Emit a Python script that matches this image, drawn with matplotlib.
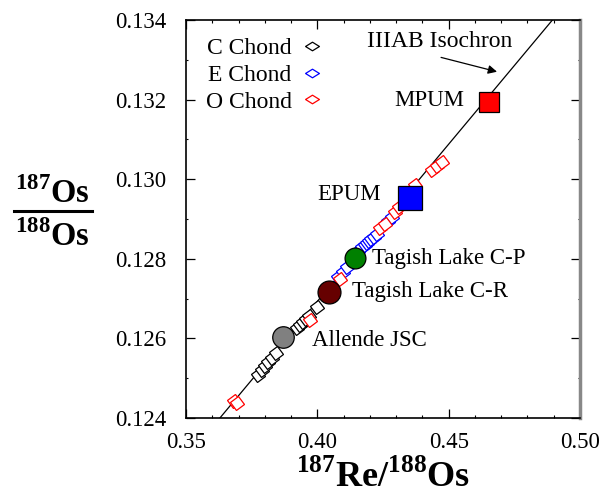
import matplotlib
matplotlib.use("Agg")
import matplotlib.pyplot as plt
from matplotlib.lines import Line2D
from matplotlib.markers import MarkerStyle
from matplotlib.transforms import Affine2D

# isochron (IIIAB) parameters
isoSlope = 0.0790
isoIntercept = 0.09533
isoX = [0.3500, 0.5000]

# chondrite data, 187Re/188Os and 187Os/188Os
cChondRe = [0.3774, 0.3789, 0.3801, 0.3812, 0.3827, 0.3843,
            0.3923, 0.3934, 0.3946, 0.3957, 0.3968, 0.3999]
cChondOs = [0.12508, 0.12521, 0.12531, 0.12541, 0.12551, 0.12564,
            0.12626, 0.12634, 0.12642, 0.12649, 0.12657, 0.12679]

eChondRe = [0.4079, 0.4098, 0.4113, 0.4155, 0.4170, 0.4182, 0.4189,
            0.4197, 0.4205, 0.4216, 0.4227, 0.4269, 0.4284]
eChondOs = [0.12755, 0.12767, 0.12780, 0.12820, 0.12830, 0.12835, 0.12840,
            0.12845, 0.12850, 0.12855, 0.12863, 0.12896, 0.12906]

oChondRe = [0.3683, 0.3694, 0.3972, 0.4086, 0.4239, 0.4258, 0.4296,
            0.4311, 0.4372, 0.4437, 0.4456, 0.4475]
oChondOs = [0.12443, 0.12438, 0.12647, 0.12750, 0.12878, 0.12888, 0.12918,
            0.12931, 0.12986, 0.13024, 0.13034, 0.13044]

# reservoirs / samples
bigNames = ["MPUM", "EPUM", "Tagish Lake C-P", "Tagish Lake C-R", "Allende JSC"]
bigRe = [0.4654, 0.4353, 0.4144, 0.4045, 0.3869]
bigOs = [0.13195, 0.12953, 0.12803, 0.12717, 0.12604]

plt.rcParams['font.family'] = ['Liberation Serif', 'DejaVu Serif']
plt.rcParams['mathtext.fontset'] = 'custom'
plt.rcParams['mathtext.rm'] = 'Liberation Serif'
plt.rcParams['mathtext.bf'] = 'Liberation Serif:bold'

fig = plt.figure(figsize=(6.0, 4.95), dpi=100)
ax = fig.add_axes([0.31, 0.1556, 0.6567, 0.804])

isoY = [isoIntercept + isoSlope * x for x in isoX]
ax.plot(isoX, isoY, color='black', linewidth=0.9, zorder=1)

tilted = MarkerStyle('s', transform=Affine2D().rotate_deg(38))
for xs, ys, col in [(cChondRe, cChondOs, 'black'),
                    (eChondRe, eChondOs, 'blue'),
                    (oChondRe, oChondOs, 'red')]:
    ax.plot(xs, ys, ls='none', marker=tilted, ms=6.8, mfc='white',
            mec=col, mew=0.9, zorder=2)

# big symbols
ax.plot(bigRe[0], bigOs[0], 's', ms=15, mfc='#ff0000', mec='black', mew=0.9, zorder=4)
ax.plot(bigRe[1], bigOs[1], 's', ms=17, mfc='#0000ff', mec='black', mew=0.9, zorder=4)
ax.plot(bigRe[2], bigOs[2], 'o', ms=15, mfc='#008000', mec='black', mew=0.9, zorder=4)
ax.plot(bigRe[3], bigOs[3], 'o', ms=16.5, mfc='#660000', mec='black', mew=0.9, zorder=4)
ax.plot(bigRe[4], bigOs[4], 'o', ms=15.5, mfc='#808080', mec='black', mew=0.9, zorder=4)

fs = 16.5
ax.text(0.4559, 0.13197, bigNames[0], ha='right', va='center', fontsize=fs)
ax.text(0.4243, 0.12961, bigNames[1], ha='right', va='center', fontsize=fs)
ax.text(0.4208, 0.12800, bigNames[2], ha='left', va='center', fontsize=fs)
ax.text(0.4132, 0.12717, bigNames[3], ha='left', va='center', fontsize=fs)
ax.text(0.3980, 0.12594, bigNames[4], ha='left', va='center', fontsize=fs)

ax.annotate("", xy=(0.4684, 0.13270), xytext=(0.4471, 0.13306),
            arrowprops=dict(arrowstyle='-|>', color='black', lw=0.9,
                            mutation_scale=13, shrinkA=0, shrinkB=0))
ax.text(0.4741, 0.13345, "IIIAB Isochron", ha='right', va='center', fontsize=17)

# legend with symbols after the text
diamond = [(-1.0, 0.0), (0.0, 0.62), (1.0, 0.0), (0.0, -0.62), (-1.0, 0.0)]
handles = [Line2D([], [], ls='none', marker=diamond, ms=10, mfc='white', mec=c, mew=0.9)
           for c in ['black', 'blue', 'red']]
ax.legend(handles, ["C Chond", "E Chond", "O Chond"], loc='upper left',
          bbox_to_anchor=(0.02, 0.985), frameon=False, markerfirst=False,
          fontsize=17, handlelength=0.9, handletextpad=0.4, labelspacing=0.22,
          borderpad=0.0)

ax.set_xlim(0.35, 0.50)
ax.set_ylim(0.124, 0.134)
ax.set_xticks([0.35, 0.40, 0.45, 0.50])
ax.set_xticklabels(["0.35", "0.40", "0.45", "0.50"])
ax.set_xticks([0.36, 0.37, 0.38, 0.39, 0.41, 0.42, 0.43, 0.44,
               0.46, 0.47, 0.48, 0.49], minor=True)
ax.set_yticks([0.124, 0.126, 0.128, 0.130, 0.132, 0.134])
ax.set_yticklabels(["0.124", "0.126", "0.128", "0.130", "0.132", "0.134"])
ax.set_yticks([0.125, 0.127, 0.129, 0.131, 0.133], minor=True)
ax.tick_params(axis='both', which='both', direction='in', top=True, right=True,
               labelsize=fs, color='black')
ax.tick_params(axis='both', which='major', length=6.5, width=0.9)
ax.tick_params(axis='x', which='major', pad=10)
ax.tick_params(axis='y', which='major', pad=14)
ax.tick_params(axis='x', which='minor', length=2.5, width=0.8)
ax.tick_params(axis='y', which='minor', length=1.2, width=0.8)

for side in ['top', 'bottom', 'left']:
    ax.spines[side].set_color('black')
    ax.spines[side].set_linewidth(1.2)
ax.spines['right'].set_color('#888888')
ax.spines['right'].set_linewidth(2.5)

ax.set_xlabel(r"$^{\mathbf{187}}$Re/$^{\mathbf{188}}$Os", fontsize=26,
              fontweight='bold', labelpad=5)

# y label as a stacked fraction
fig.text(0.088, 0.608, r"$^{\mathbf{187}}$Os", ha='center', va='center',
         fontsize=23.5, fontweight='bold')
fig.text(0.088, 0.522, r"$^{\mathbf{188}}$Os", ha='center', va='center',
         fontsize=23.5, fontweight='bold')
fig.add_artist(Line2D([0.023, 0.153], [0.574, 0.574], color='black',
                      linewidth=2.2, transform=fig.transFigure))

fig.savefig("out.png", dpi=100)
